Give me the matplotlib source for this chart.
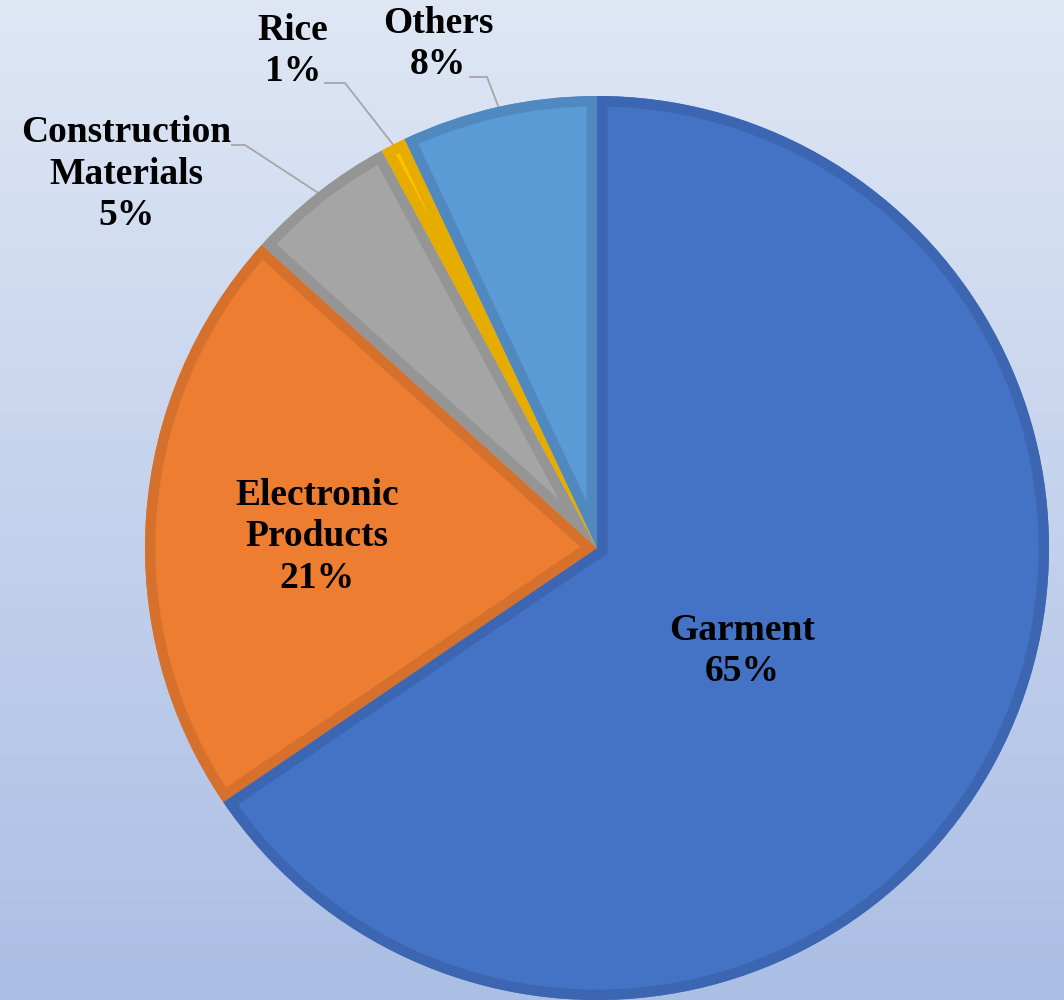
import matplotlib
matplotlib.use("Agg")
import matplotlib.pyplot as plt
from matplotlib.patches import Wedge
import numpy as np

# datos
categorias = ["Garment", "Electronic\nProducts", "Construction\nMaterials", "Rice", "Others"]
valores = [65.5, 21.2, 5.4, 0.9, 7.0]
porcentajes = ["65%", "21%", "5%", "1%", "8%"]

colores = ["#4472C4", "#ED7D31", "#A5A5A5", "#FFC000", "#5B9BD5"]
bordes = ["#3D66B2", "#D6712D", "#959595", "#E6AD00", "#5089C0"]

plt.rcParams['font.family'] = ['Liberation Serif', 'DejaVu Serif']

fig = plt.figure(figsize=(10.64, 10), dpi=100)

# fondo degradado
fondo = fig.add_axes([0, 0, 1, 1], zorder=0)
grad = np.linspace(0, 1, 256).reshape(-1, 1)
top = np.array([223, 231, 245]) / 255
bot = np.array([171, 190, 228]) / 255
img = top[None, None, :] * (1 - grad[:, :, None]) + bot[None, None, :] * grad[:, :, None]
fondo.imshow(img, aspect='auto', extent=[0, 1, 0, 1])
fondo.axis('off')

ax = fig.add_axes([0, 0, 1, 1], zorder=1)
ax.patch.set_alpha(0)
centro = (597, 452)
radio = 452
wedges, _ = ax.pie(valores, colors=colores, startangle=90, counterclock=False,
                   center=centro, radius=radio, wedgeprops=dict(linewidth=0))
ax.set_xlim(0, 1064)
ax.set_ylim(0, 1000)
ax.set_aspect('equal')
ax.axis('off')

# borde interior: trazo grueso recortado por la misma porcion
for w, b in zip(wedges, bordes):
    borde = Wedge(w.center, w.r, w.theta1, w.theta2, facecolor='none',
                  edgecolor=b, linewidth=15, joinstyle='miter')
    ax.add_patch(borde)
    borde.set_clip_path(w)

fs = 27
ls = 1.25
# etiquetas dentro
ax.text(742, 349, categorias[0] + "\n" + porcentajes[0], ha='center', va='center',
        fontsize=fs, fontweight='bold', linespacing=ls)
ax.text(317, 463, categorias[1] + "\n" + porcentajes[1], ha='center', va='center',
        fontsize=fs, fontweight='bold', linespacing=ls)

# etiquetas fuera con lineas guia
pos_txt = {2: (126, 826), 3: (293, 949), 4: (438, 956)}
codo = {2: [(232, 855), (245, 855)], 3: [(325, 917), (345, 917)], 4: [(470, 923), (487, 923)]}
for i in [2, 3, 4]:
    w = wedges[i]
    ang = np.deg2rad((w.theta1 + w.theta2) / 2)
    ex = centro[0] + radio * np.cos(ang)
    ey = centro[1] + radio * np.sin(ang)
    xs = [p[0] for p in codo[i]] + [ex]
    ys = [p[1] for p in codo[i]] + [ey]
    ax.plot(xs, ys, color='#A6A6A6', lw=1.3, zorder=0.5)
    ax.text(pos_txt[i][0], pos_txt[i][1], categorias[i] + "\n" + porcentajes[i],
            ha='center', va='center', fontsize=fs, fontweight='bold', linespacing=ls)

fig.savefig("out.png", dpi=100)
